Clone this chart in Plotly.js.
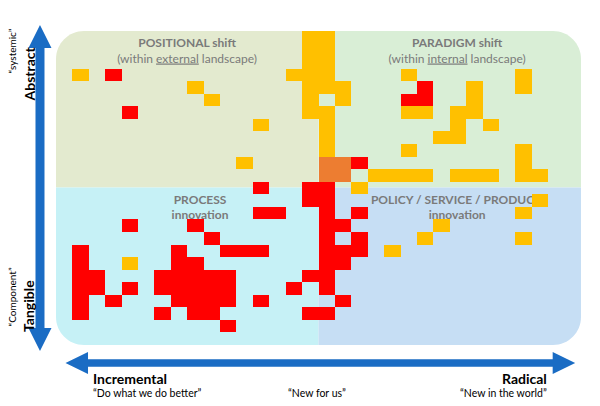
<!DOCTYPE html>
<html><head><meta charset="utf-8">
<script src="https://cdn.plot.ly/plotly-3.0.1.min.js"></script>
<style>html,body{margin:0;padding:0;background:#fff}#chart{width:600px;height:406px}</style>
</head><body><div id="chart"></div>
<script>
// Grid dimensions
const nCols = 32, nRows = 25;
// Cells as [column, row]; row 0 is the top row
const orangeCells = [[15,0],[16,0],[15,1],[16,1],[15,2],[16,2],
 [1,3],[14,3],[15,3],[16,3],[21,3],[28,3],
 [8,4],[15,4],[16,4],[17,4],[25,4],[28,4],
 [9,5],[15,5],[17,5],[25,5],
 [15,6],[16,6],[21,6],[22,6],[24,6],[25,6],
 [12,7],[16,7],[24,7],[26,7],
 [16,8],[23,8],[24,8],
 [16,9],[21,9],[28,9],
 [11,10],[28,10],
 [19,11],[20,11],[21,11],[22,11],[24,11],[25,11],[26,11],[28,11],[29,11],
 [18,12],[29,13],[28,14],[23,15],[22,16],[28,16],[20,17],[4,18]];
const redCells = [[3,3],[22,4],[21,5],[22,5],[4,6],[18,10],
 [12,12],[15,12],[16,12],[15,13],[16,13],
 [12,14],[13,14],[16,14],[18,14],
 [4,15],[8,15],[16,15],[17,15],
 [9,16],[16,16],[18,16],
 [1,17],[7,17],[10,17],[11,17],[12,17],[16,17],[17,17],[18,17],
 [1,18],[7,18],[8,18],[16,18],[17,18],
 [1,19],[2,19],[6,19],[7,19],[8,19],[9,19],[10,19],[15,19],[16,19],
 [1,20],[2,20],[4,20],[6,20],[7,20],[8,20],[9,20],[10,20],[14,20],[16,20],
 [1,21],[3,21],[7,21],[8,21],[9,21],[10,21],[12,21],[17,21],
 [1,22],[6,22],[8,22],[9,22],[15,22],[16,22],
 [10,23]];
const darkCells = [[16,10],[17,10],[16,11],[17,11]];

// Quadrant texts
const quadTitles = ['POSITIONAL shift','PARADIGM shift','PROCESS','POLICY / SERVICE / PRODUCT'];
const quadSubs = ['(within <u>external</u> landscape)','(within <u>internal</u> landscape)','innovation','innovation'];

// Build the z matrix
const z = [];
for (let r = 0; r < nRows; r++) { z.push(new Array(nCols).fill(null)); }
orangeCells.forEach(([c,r]) => { z[r][c] = 1; });
redCells.forEach(([c,r]) => { z[r][c] = 2; });
darkCells.forEach(([c,r]) => { z[r][c] = 3; });

// pixel -> paper helpers (decoration only)
const ML = 56, MT = 31, PW = 524.8, PH = 314;
const px = x => (x - ML) / PW;
const py = y => (MT + PH - y) / PH;
const pt = (x, y) => px(x).toFixed(5) + ',' + py(y).toFixed(5);

const X0 = 56, X1 = 580.8, Y0 = 31, Y1 = 345, XM = 318.4, YM = 187.5, R = 28, K = 15.5;
const quadPaths = [
  'M' + pt(X0,YM) + ' L' + pt(X0,Y0+R) + ' C' + pt(X0,Y0+R-K) + ' ' + pt(X0+R-K,Y0) + ' ' + pt(X0+R,Y0) + ' L' + pt(XM,Y0) + ' L' + pt(XM,YM) + ' Z',
  'M' + pt(XM,Y0) + ' L' + pt(X1-R,Y0) + ' C' + pt(X1-R+K,Y0) + ' ' + pt(X1,Y0+R-K) + ' ' + pt(X1,Y0+R) + ' L' + pt(X1,YM) + ' L' + pt(XM,YM) + ' Z',
  'M' + pt(X0,YM) + ' L' + pt(XM,YM) + ' L' + pt(XM,Y1) + ' L' + pt(X0+R,Y1) + ' C' + pt(X0+R-K,Y1) + ' ' + pt(X0,Y1-R+K) + ' ' + pt(X0,Y1-R) + ' Z',
  'M' + pt(XM,YM) + ' L' + pt(X1,YM) + ' L' + pt(X1,Y1-R) + ' C' + pt(X1,Y1-R+K) + ' ' + pt(X1-R+K,Y1) + ' ' + pt(X1-R,Y1) + ' L' + pt(XM,Y1) + ' Z'
];
const quadColors = ['#E3EACF','#D9EED6','#C6F1F6','#C6DEF4'];

const shapes = quadPaths.map((p, i) => ({type:'path', xref:'paper', yref:'paper', path:p, fillcolor:quadColors[i], line:{width:0}, layer:'below'}));

const GREY = '#7A7A7A';
function labelShape(x, y, text, size) {
  return {type:'rect', xref:'paper', yref:'paper', x0:px(x-80), x1:px(x+80), y0:py(y+7), y1:py(y-7),
    layer:'below', line:{width:0}, fillcolor:'rgba(0,0,0,0)',
    label:{text:text, font:{family:'Lato, sans-serif', size:size, color:GREY}, textposition:'middle center'}};
}
const titlePos = [[187,42],[457,42],[200,199],[456,199]];
const subPos = [[187,58],[457,58],[200,214],[457,214]];
quadTitles.forEach((t,i) => shapes.push(labelShape(titlePos[i][0], titlePos[i][1], '<b>' + t + '</b>', 12)));
quadSubs.forEach((t,i) => shapes.push(labelShape(subPos[i][0], subPos[i][1], i < 2 ? t : '<b>' + t + '</b>', 12)));

// Arrows
const BLUE = '#1A6CC4';
const vArrow = 'M' + pt(40,25) + ' L' + pt(51.5,48) + ' L' + pt(44.5,48) + ' L' + pt(44.5,328) + ' L' + pt(51.5,328) +
  ' L' + pt(40,351) + ' L' + pt(28.5,328) + ' L' + pt(35.5,328) + ' L' + pt(35.5,48) + ' L' + pt(28.5,48) + ' Z';
const hArrow = 'M' + pt(65.5,363) + ' L' + pt(88,352) + ' L' + pt(88,359.3) + ' L' + pt(552.5,359.3) + ' L' + pt(552.5,352) +
  ' L' + pt(575,363) + ' L' + pt(552.5,374) + ' L' + pt(552.5,366.7) + ' L' + pt(88,366.7) + ' L' + pt(88,374) + ' Z';
shapes.push({type:'path', xref:'paper', yref:'paper', path:vArrow, fillcolor:BLUE, line:{width:0}});
shapes.push({type:'path', xref:'paper', yref:'paper', path:hArrow, fillcolor:BLUE, line:{width:0}});

const F = 'Lato, sans-serif';
function ann(x, y, text, size, opts) {
  return Object.assign({xref:'paper', yref:'paper', x:px(x), y:py(y), text:text, showarrow:false,
    font:{family:F, size:size, color:'#000'}, xanchor:'center', yanchor:'middle'}, opts || {});
}
const annotations = [
  ann(29.5, 74, '<b>Abstract</b>', 14, {textangle:-90}),
  ann(12.5, 51, '“systemic”', 10, {textangle:-90}),
  ann(28, 306, '<b>Tangible</b>', 14, {textangle:-90}),
  ann(12.5, 297, '“Component”', 10, {textangle:-90}),
  ann(91, 378, '<b>Incremental</b>', 14, {xanchor:'left'}),
  ann(91, 392.5, '“Do what we do better”', 10.5, {xanchor:'left'}),
  ann(317, 392.5, '“New for us”', 10.5),
  ann(549, 378, '<b>Radical</b>', 14, {xanchor:'right'}),
  ann(549, 392.5, '“New in the world”', 10.5, {xanchor:'right'})
];

const trace = {type:'heatmap', z:z, x0:0.5, dx:1, y0:0.5, dy:1, zmin:1, zmax:3,
  colorscale:[[0,'#FFC000'],[0.5,'#FF0000'],[1,'#ED7D31']], showscale:false, hoverinfo:'skip'};

const layout = {width:600, height:406, margin:{l:ML, r:600-ML-PW, t:MT, b:406-MT-PH, pad:0},
  paper_bgcolor:'#ffffff', plot_bgcolor:'rgba(0,0,0,0)', showlegend:false,
  xaxis:{range:[0,nCols], visible:false, fixedrange:true},
  yaxis:{range:[nRows,0], visible:false, fixedrange:true},
  shapes:shapes, annotations:annotations};

Plotly.newPlot('chart', [trace], layout, {displayModeBar:false, staticPlot:true});
</script></body></html>
